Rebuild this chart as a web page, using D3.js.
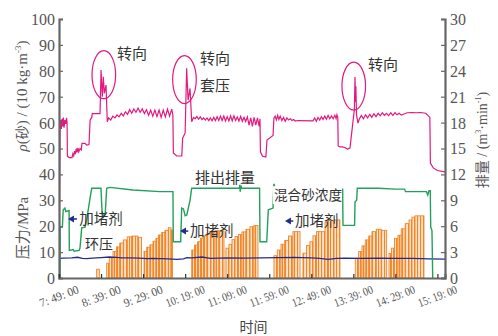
<!DOCTYPE html>
<html><head><meta charset="utf-8">
<script src="https://cdn.jsdelivr.net/npm/d3@7"></script>
<style>body{margin:0;background:#fff}</style>
</head><body><svg id="c" width="498" height="336"></svg>
<script>
// ---- data (time in minutes after 7:49:00) ----
const xTickMinutes = [0,50,100,150,200,250,300,350,400,450];
const xTickLabels = ["7: 49: 00","8: 39: 00","9: 29: 00","10: 19: 00","11: 09: 00","11: 59: 00","12: 49: 00","13: 39: 00","14: 29: 00","15: 19: 00"];
const leftTicks = [0,10,20,30,40,50,60,70,80,90,100];
const rightTicks = [0,3,6,9,12,15,18,21,24,27,30];

// sand density rho (10 kg/m3), left axis
const density = [
[0.6,28],[1.2,58],[2,61],[2.8,57.5],[3.6,61.5],[4.4,58.5],[5.2,62],[6,58],[7,61],[8,59.5],[9,61.8],[9.6,60],
[10,47],[12,46.5],[15.5,46.5],[16.5,48],[17.5,47.2],[18.5,49],[19.5,47.8],[20.5,50],[21.5,48.5],[22.5,50.2],[23.5,48.7],[25,50],[26.5,49.5],
[27.3,52],[31,52],[33,51.3],[35.7,51.5],[37,61],[39,62],[39.5,63.5],[48.8,63.5],
[50,80.3],[51.5,70],[52.7,77.7],[53.9,71.3],[55.9,74.5],[57.4,60.3],
[59,61.8],[61.5,61],[64,62.5],[66.5,61.8],[69,63],[71.5,62.2],[74,63.6],[76.5,62.6],[79,64.2],[81.5,63.2],[84,65],[86.5,63.6],[89,65.3],
[91.5,64],[94,65.6],[96.5,64],[99,65.3],[101.5,63.5],[104,65],[106.5,62.8],[109,64.8],[111.5,62.5],[114,64.8],[116.5,62.3],[119,64.8],
[121.5,62],[124,64.8],[126.5,62.2],[129,65.2],[131.5,62.5],[134,65.2],[135.4,63],
[136,48.3],[140,47.1],[146,47.1],[147,54],[150,56],[151.8,81],[153.5,68.7],[155.8,73.2],[157.8,60.3],
[160,62],[162,61.5],[164,62.3],[166,61.3],[168,62.2],[170,61.2],[172,61.8],[174,61],[176,61.8],[178,60.8],[180,61.8],[182,60.7],[184,62],[186,60.8],
[188,62.3],[190,60.8],[192,62.5],[194,60.8],[196,62.5],[198,60.6],[200,62.3],[202,60.6],[204,62.6],[206,60.7],[208,62.6],[210,60.8],[212,62.2],
[214,60.6],[216,62.4],[218,60.5],[220,62],[222,60.4],[224,62.2],[226,59],[228,61.8],[230,58.5],[232,62],[234,59],[236,61.8],[238,58.5],[239,61.5],
[239.5,48.7],[242,47],[246,46.7],[247.3,53.3],[254.5,55],[255.6,61.7],
[257,62.5],[258.5,61],[260,62.8],[261.5,61.2],[263,62.5],[265,60.8],[267,62],[269,60.5],[271,61.8],[273,61],[275,61.5],[277,60.8],[279,61.2],[281,60.6],
[284,60.8],[302,60.7],[304,61.8],[306,60.5],[308,62],[310,61],[312,62.3],[314,61.2],[316,62.5],[318,61.3],[320,62.8],[322,61.5],[324,62.6],[326,61.5],
[328,62.8],[329.5,61.5],[330.5,63],[331.5,62],[332,51],[334,50.6],[337,50.6],[340,50.4],[343,49.8],[346,50.2],
[351.2,65],[352,77.6],[352.5,68],[353,74],[353.8,63],[355.5,59.8],
[357,61.3],[359.5,62.8],[362,61.5],[364.5,63],[367,61.8],[369.5,63.2],[372,62],[374.5,63.4],[377,62.3],[379.5,63.6],[382,62.6],[384.5,63.8],
[387,62.8],[389.5,63.6],[392,62.7],[394.5,63.8],[397,62.8],[399.5,63.8],[402,63],[404.5,63.6],[407,62.9],[411,63.4],[414,63.8],
[420,63.9],[425,63.8],[430,63.9],[436,63.6],[441,62],[441.6,44.4],[445,42.5],[450,41.5],[459,41]
];

// discharge rate (m3/min), right axis
const rate = [
[1.2,0],[1.3,5.9],[4,5.9],[5,7.9],[7,8.1],[8,7.7],[12,7.8],[12.3,3.2],[17,3.3],[18,3.1],[24,3.2],[25,3.5],[27,5.8],[31,5.9],[33,6.8],
[36.5,9.0],[38.9,10.4],[49.9,10.4],[51.2,7.7],[53,7.1],[55,7.5],[56.7,10.4],[60.6,10.5],[88,10.2],[120,10.0],[135.5,10.0],
[135.9,4.2],[144.7,4.2],[145.9,8.1],[148,8.0],[150,7.2],[152,7.3],[155.8,9.0],[157.8,10.4],[214.5,10.4],[215,10.8],[215.5,10.0],[216.5,10.7],[217,10.4],
[238.5,10.4],[239,4.2],[247,4.2],[248.9,7.9],[254.5,8.1],[255.5,10.9],[257,10.5],[260.4,10.3],[337.3,10.3],[337.7,6.1],[351.5,6.1],[352,8.8],[354,9.0],
[354.7,10.4],[380,10.4],[400,10.3],[411,10.3],[412,10.0],[437,10.0],[438.5,9.6],[440,10.1],[441.5,10.1],[442,5.9],[443.5,5.5],[444.4,0]
];

// annulus pressure (MPa), left axis
const annulus = [
[0.6,7.6],[5,7.7],[15,7.8],[22,8.0],[28,7.6],[33,7.5],[40,7.7],[50,7.9],[60,8.1],[68,8.0],[75,7.8],[85,7.8],[95,7.7],[105,7.5],[110,7.6],
[120,7.5],[130,7.4],[140,7.2],[148,7.4],[152,7.9],[158,7.8],[170,8.1],[180,7.6],[200,7.8],[220,7.7],[240,7.8],[260,7.9],[280,8.0],[300,7.8],
[310,7.6],[320,7.2],[330,7.6],[340,7.7],[360,7.6],[380,7.7],[400,7.6],[420,7.6],[440,7.4],[459,7.3]
];

// mixed sand concentration steps [start, end, value]
const sandBars = [
[44.8,47.9,3.4],
[56.7,59.8,5.7],[59.8,64.2,7.8],[64.2,68.4,10.2],[68.4,72.2,12.0],[72.2,76.5,13.5],[76.5,81.2,14.7],[81.2,86.4,15.9],[86.4,93.9,16.2],[93.9,98.1,15.7],
[101.1,104.3,10.3],[104.3,108.2,11.9],[108.2,111.8,12.8],[111.8,115.3,14.2],[115.3,118.3,15.3],[118.3,122.1,16.6],[122.1,126,17.6],[126,130,18.4],[130,133.2,19.4],[133.2,134.9,18.5],
[157.8,161.1,10.8],[161.1,164.7,12.7],[164.7,168.2,14.0],[168.2,171.8,15.4],[171.8,176,16.3],[176,180.7,17.2],[180.7,185.5,17.8],[185.5,190.2,18.3],[190.2,196.2,18.0],
[198.5,202.1,11.5],[202.1,205.7,13.0],[205.7,209.3,14.8],[209.3,213.4,16.0],[213.4,217.6,16.8],[217.6,222.3,17.8],[222.3,227.1,18.8],[227.1,231.9,19.8],[231.9,236.6,20.3],
[255.6,259.6,8.6],[259.6,264,10.8],[264,268.4,13.0],[268.4,272.9,14.5],[272.9,278.2,16.2],[278.2,286.6,17.9],
[290.1,294.3,9.6],[294.3,298.4,12.5],[298.4,302,14.0],[302,306.2,16.3],[306.2,316.3,17.9],[316.3,320.4,21.5],[320.4,327,22.2],[327,334.1,22.4],
[352.3,356.3,7.6],[356.3,360.3,10.2],[360.3,364.2,12.4],[364.2,368.3,14.7],[368.3,372.2,16.2],[372.2,377.3,17.9],[377.3,383.2,18.8],[383.2,389.6,18.4],
[392.4,395.3,9.5],[395.3,398.9,11.5],[398.9,403.1,15.3],[403.1,407,16.5],[407,411.7,19.0],[411.7,416.2,21.0],[416.2,419.7,22.4],[419.7,423.3,23.5],[423.3,434,24.0]
];

// ---- drawing ----
const svg = d3.select("#c");
const x = d3.scaleLinear().domain([0,459]).range([59,445]);
const yL = d3.scaleLinear().domain([0,100]).range([278,19]);
const yR = d3.scaleLinear().domain([0,30]).range([278,19]);
const serif = "'Liberation Serif','Times New Roman',serif";
const cjk = "'Noto Sans CJK SC','Noto Sans',sans-serif";

const defs = svg.append("defs");
const pat = defs.append("pattern").attr("id","stripe").attr("patternUnits","userSpaceOnUse")
  .attr("width",3).attr("height",8);
pat.append("rect").attr("width",3).attr("height",8).attr("fill","#fde2c8");
pat.append("rect").attr("x",0).attr("width",1.1).attr("height",8).attr("fill","#f1872a");

// bars
svg.append("g").selectAll("rect").data(sandBars).join("rect")
  .attr("x",d=>x(d[0])).attr("width",d=>x(d[1])-x(d[0]))
  .attr("y",d=>yL(d[2])).attr("height",d=>yL(0)-yL(d[2]))
  .attr("fill","url(#stripe)").attr("stroke","#f1872a").attr("stroke-width",0.9);

// lines
const lineL = d3.line().x(d=>x(d[0])).y(d=>yL(d[1]));
const lineR = d3.line().x(d=>x(d[0])).y(d=>yR(d[1]));
svg.append("path").datum(annulus).attr("d",lineL).attr("fill","none").attr("stroke","#232c8c").attr("stroke-width",1.3);
svg.append("path").datum(rate).attr("d",lineR).attr("fill","none").attr("stroke","#22a05c").attr("stroke-width",1.4);
svg.append("path").datum(density).attr("d",lineL).attr("fill","none").attr("stroke","#e5187f").attr("stroke-width",1.2);

// axes
const axisColor = "#666";
const gL = svg.append("g").attr("transform","translate(59,0)")
  .call(d3.axisRight(yL).tickValues(leftTicks).tickSize(4).tickFormat(d3.format("d")));
gL.selectAll("text").attr("x",-4).attr("text-anchor","end");
const gR = svg.append("g").attr("transform","translate(445,0)")
  .call(d3.axisLeft(yR).tickValues(rightTicks).tickSize(4).tickFormat(d3.format("d")));
gR.selectAll("text").attr("x",5).attr("text-anchor","start");
[gL,gR].forEach(g=>{
  g.select(".domain").attr("stroke",axisColor).attr("stroke-width",2.2);
  g.selectAll(".tick line").attr("stroke",axisColor).attr("stroke-width",1.2);
  g.selectAll("text").attr("font-family",serif).attr("font-size",16).attr("fill","#555").attr("dy","0.34em");
});
const gB = svg.append("g").attr("transform","translate(0,278)")
  .call(d3.axisTop(x).tickValues(xTickMinutes).tickSize(4).tickFormat(""));
gB.select(".domain").attr("stroke",axisColor).attr("stroke-width",2.2);
gB.selectAll(".tick line").attr("stroke","#333").attr("stroke-width",1.2);
svg.append("g").selectAll("text").data(xTickMinutes).join("text")
  .attr("transform",d=>`translate(${x(d)},296) rotate(-21)`)
  .attr("text-anchor","middle").attr("dy","0.35em")
  .attr("font-family",serif).attr("font-size",12).attr("fill","#555")
  .attr("textLength",41).attr("lengthAdjust","spacingAndGlyphs")
  .text((d,i)=>xTickLabels[i]);

// axis titles
const tl = svg.append("text").attr("transform","translate(27,96) rotate(-90)").attr("text-anchor","middle")
  .attr("font-family",serif).attr("font-size",15).attr("fill","#555");
tl.append("tspan").attr("font-style","italic").text("ρ");
tl.append("tspan").text("(");
tl.append("tspan").attr("font-family",cjk).attr("font-size",14).text("砂");
tl.append("tspan").text(") / (10 kg·m");
tl.append("tspan").attr("font-size",9).attr("dy",-6).text("-3");
tl.append("tspan").attr("dy",6).text(")");
const tp = svg.append("text").attr("transform","translate(28,228) rotate(-90)").attr("text-anchor","middle")
  .attr("fill","#555").attr("font-size",15);
tp.append("tspan").attr("font-family",cjk).text("压力");
tp.append("tspan").attr("font-family",serif).text("/MPa");
const tr = svg.append("text").attr("transform","translate(487,140) rotate(-90)").attr("text-anchor","middle")
  .attr("fill","#555").attr("font-size",14);
tr.append("tspan").attr("font-family",cjk).text("排量");
tr.append("tspan").attr("font-family",serif).text(" / (m");
tr.append("tspan").attr("font-family",serif).attr("font-size",8).attr("dy",-6).text("3");
tr.append("tspan").attr("font-family",serif).attr("dy",6).text("·min");
tr.append("tspan").attr("font-family",serif).attr("font-size",8).attr("dy",-6).text("-1");
tr.append("tspan").attr("font-family",serif).attr("dy",6).text(")");
svg.append("text").attr("x",253.5).attr("y",327).attr("text-anchor","middle").attr("dy","0.35em")
  .attr("font-family",cjk).attr("font-size",14).attr("fill","#444").text("时间");

// annotations
const ellipses = [[53.3,78.5],[149.2,76.6],[350.5,74.1]];
svg.append("g").selectAll("ellipse").data(ellipses).join("ellipse")
  .attr("cx",d=>x(d[0])).attr("cy",d=>yL(d[1])).attr("rx",11.8).attr("ry",24)
  .attr("fill","none").attr("stroke","#e5187f").attr("stroke-width",1.2);

const labels = [
  {t:69,v:86.5,s:15,txt:"转向"},
  {t:167.6,v:84.5,s:15,txt:"转向"},
  {t:167.6,v:74.1,s:15,txt:"套压"},
  {t:367.4,v:82.2,s:15,txt:"转向"},
  {t:161.7,v:38.6,s:15,txt:"排出排量"},
  {t:30.9,v:13.1,s:14,txt:"环压"},
  {t:24.1,v:22.8,s:14.5,txt:"加堵剂"},
  {t:155.8,v:18.1,s:14.5,txt:"加堵剂"},
  {t:280.6,v:22,s:14.5,txt:"加堵剂"}
];
// white box behind 混合砂浓度
svg.append("rect").attr("x",x(255.7)-1).attr("y",yL(32)-9).attr("width",69).attr("height",18).attr("fill","#fff");
svg.append("text").attr("x",x(255.7)).attr("y",yL(32)).attr("dy","0.35em")
  .attr("font-family",cjk).attr("font-size",13.6).attr("fill","#333").text("混合砂浓度");
svg.append("g").selectAll("text").data(labels).join("text")
  .attr("x",d=>x(d.t)).attr("y",d=>yL(d.v)).attr("dy","0.35em")
  .attr("font-family",cjk).attr("font-size",d=>d.s).attr("fill","#333").text(d=>d.txt);

const arrows = [[10.7,21.4,22.8],[143.9,153.7,18.1],[268.7,278.6,22]];
const ga = svg.append("g");
arrows.forEach(a=>{
  const tx = x(a[0]), ex = x(a[1]), yy = yL(a[2]);
  ga.append("line").attr("x1",tx+4).attr("x2",ex).attr("y1",yy).attr("y2",yy).attr("stroke","#232c8c").attr("stroke-width",1.5);
  ga.append("path").attr("d",`M${tx},${yy} L${tx+6},${yy-3.5} L${tx+6},${yy+3.5} Z`).attr("fill","#232c8c");
});
</script></body></html>
